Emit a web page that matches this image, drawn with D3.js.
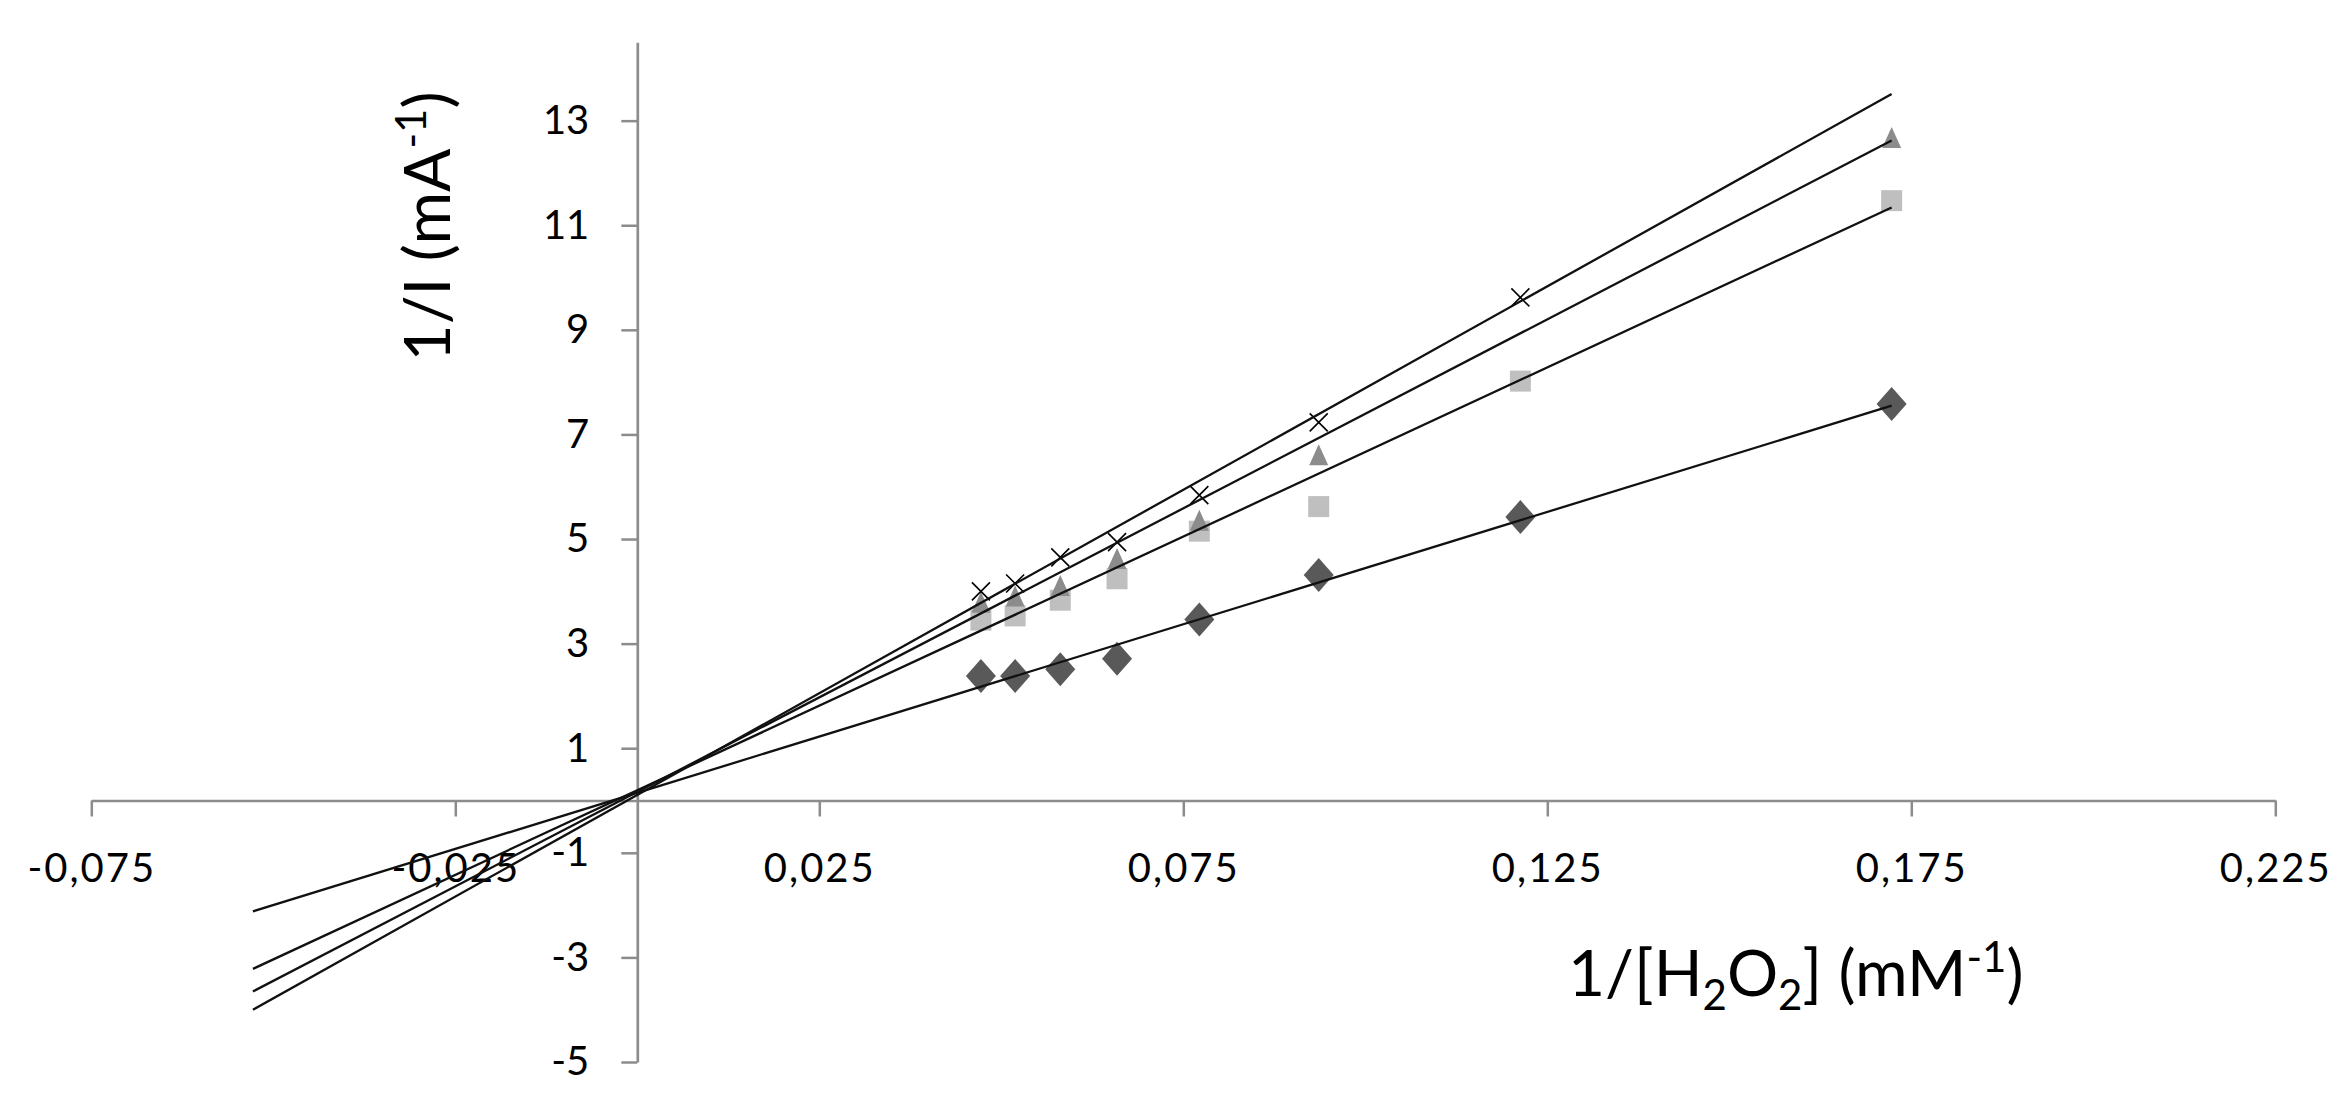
<!DOCTYPE html>
<meta charset="utf-8">
<head>
  <title>1/I vs 1/[H2O2]</title>
  <style>
    body { margin: 0; background: #fff; }
  </style>
</head>

<script src="https://cdn.jsdelivr.net/npm/d3@7"></script>

<div id="my_dataviz"></div>

<script>

// 1/[H2O2] (mM-1), shared by all series
var xValues = [0.0472, 0.0519, 0.0581, 0.0659, 0.0772, 0.0936, 0.1213, 0.1723];

// 1/I (mA-1) for each series, null = no point
var diamondValues  = [2.38, 2.38, 2.51, 2.71, 3.46, 4.31, 5.42, 7.58];
var squareValues   = [3.45, 3.53, 3.83, 4.24, 5.15, 5.62, 8.02, 11.47];
var triangleValues = [3.78, 3.90, 4.10, 4.62, 5.35, 6.60, null, 12.67];
var crossValues    = [4.00, 4.15, 4.65, 4.94, 5.84, 7.23, 9.62, null];

// linear trendlines (diamond, square, triangle, cross), extended back to trendStart
var trendSlopes     = [42.96, 64.68, 72.28, 77.79];
var trendIntercepts = [0.148, 0.196, 0.166, 0.107];
var trendStart = -0.0528;

// axis ticks
var xTicks = [-0.075, -0.025, 0.025, 0.075, 0.125, 0.175, 0.225];
var yTicks = [-5, -3, -1, 1, 3, 5, 7, 9, 11, 13];

var width = 2351, height = 1114;
var font = "Lato, 'Liberation Sans', sans-serif";

var svg = d3.select("#my_dataviz")
  .append("svg")
    .attr("width", width)
    .attr("height", height)
    .style("display", "block")
    .style("background", "#fff");

// scales
var x = d3.scaleLinear()
  .domain([-0.075, 0.225])
  .range([91.3, 2275.3]);

var y = d3.scaleLinear()
  .domain([-5, 14.5])
  .range([1062, 42.2]);

var axisColor = "#8c8c8c";

function excelNum(fmt) {
  var f = d3.format(fmt);
  return function(d) { return f(d).replace(".", ",").replace("\u2212", "-"); };
}

// X axis, crossing at y = 0
var xAxis = svg.append("g")
  .attr("transform", "translate(0," + y(0) + ")")
  .call(d3.axisBottom(x)
    .tickValues(xTicks)
    .tickSize(16)
    .tickSizeOuter(0)
    .tickPadding(37)
    .tickFormat(excelNum(".3f")));

// Y axis, crossing at x = 0
var yAxis = svg.append("g")
  .attr("transform", "translate(" + x(0) + ",0)")
  .call(d3.axisLeft(y)
    .tickValues(yTicks)
    .tickSize(16)
    .tickSizeOuter(0)
    .tickPadding(32)
    .tickFormat(excelNum("d")));

[xAxis, yAxis].forEach(function(g) {
  g.select(".domain").attr("stroke", axisColor).attr("stroke-width", 2.7);
  g.selectAll(".tick line").attr("stroke", axisColor).attr("stroke-width", 2.5);
  g.selectAll(".tick text")
    .attr("fill", "#000")
    .style("font-family", font)
    .style("font-size", "40px");
});
xAxis.selectAll(".tick text").style("letter-spacing", "2px");

// markers
var series = [
  { values: diamondValues,  path: "M0,-17L15,0L0,17L-15,0Z",        fill: "#595959", stroke: "none" },
  { values: squareValues,   path: "M-10.5,-10.5h21v21h-21Z",        fill: "#bfbfbf", stroke: "none" },
  { values: triangleValues, path: "M0,-11L9.5,10L-9.5,10Z",         fill: "#8c8c8c", stroke: "none" },
  { values: crossValues,    path: "M-9,-9L9,9M-9,9L9,-9",           fill: "none",    stroke: "#000" }
];

series.forEach(function(s) {
  var pts = xValues.map(function(v, i) { return { x: v, y: s.values[i] }; })
    .filter(function(d) { return d.y !== null; });
  svg.append("g")
    .selectAll("path")
    .data(pts)
    .enter()
    .append("path")
      .attr("transform", function(d) { return "translate(" + x(d.x) + "," + y(d.y) + ")"; })
      .attr("d", s.path)
      .attr("fill", s.fill)
      .attr("stroke", s.stroke)
      .attr("stroke-width", 1.6);
});

// trendlines, drawn on top of the markers
var xEnd = d3.max(xValues);
trendSlopes.forEach(function(m, i) {
  var b = trendIntercepts[i];
  var pts = [trendStart, xEnd].map(function(v) { return { x: v, y: m * v + b }; });
  svg.append("path")
    .datum(pts)
    .attr("fill", "none")
    .attr("stroke", "#111")
    .attr("stroke-width", 2.3)
    .attr("d", d3.line()
      .x(function(d) { return x(d.x); })
      .y(function(d) { return y(d.y); })
    );
});

// X title: 1/[H2O2] (mM-1)
var xt = svg.append("text")
  .attr("x", 1568)
  .attr("y", 996)
  .style("font-family", font)
  .style("font-size", "64px")
  .attr("fill", "#000");
xt.append("tspan").text("1/[H");
xt.append("tspan").attr("dy", 14).style("font-size", "42px").text("2");
xt.append("tspan").attr("dy", -14).text("O");
xt.append("tspan").attr("dy", 14).style("font-size", "42px").text("2");
xt.append("tspan").attr("dy", -14).text("] (mM");
xt.append("tspan").attr("dy", -24).style("font-size", "42px").text("-1");
xt.append("tspan").attr("dy", 24).text(")");

// Y title: 1/I (mA-1)
var yt = svg.append("text")
  .attr("transform", "translate(450,226.5) rotate(-90)")
  .style("text-anchor", "middle")
  .style("font-family", font)
  .style("font-size", "64px")
  .attr("fill", "#000");
yt.append("tspan").text("1/I (mA");
yt.append("tspan").attr("dy", -24).style("font-size", "42px").text("-1");
yt.append("tspan").attr("dy", 24).text(")");

</script>
